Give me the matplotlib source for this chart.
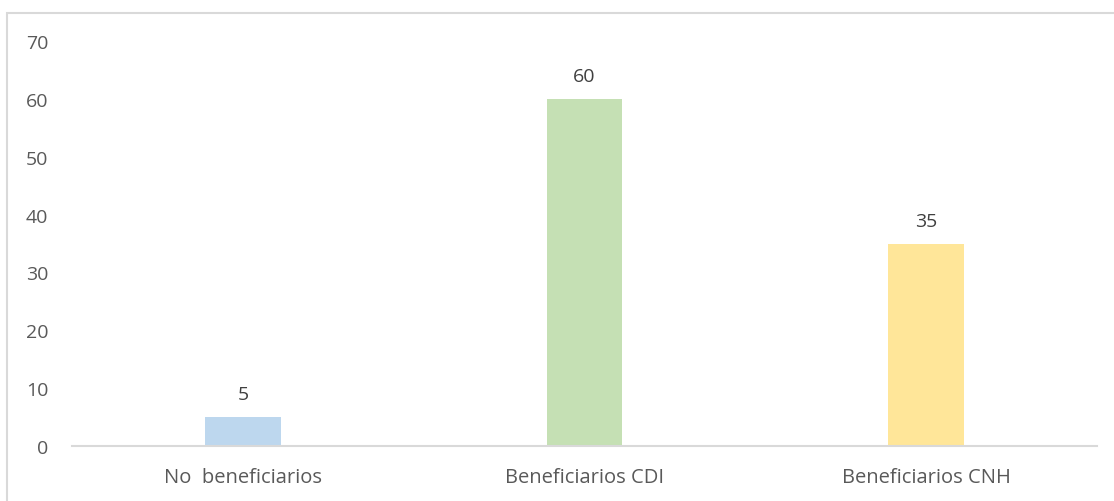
import matplotlib

matplotlib.use("Agg")
import matplotlib.pyplot as plt
from matplotlib.patches import Rectangle

categories = ["No  beneficiarios", "Beneficiarios CDI", "Beneficiarios CNH"]
values = [5, 60, 35]
bar_colors = ["#BDD7EE", "#C5E0B4", "#FFE699"]
yticks = [0, 10, 20, 30, 40, 50, 60, 70]

plt.rcParams["font.family"] = ["Open Sans", "DejaVu Sans"]

fig = plt.figure(figsize=(11.14, 5.02), dpi=100)
ax = fig.add_axes([72 / 1114, 1 - 447 / 502, 1025 / 1114, 405 / 502])

x = list(range(len(categories)))
bars = ax.bar(x, values, width=0.222, color=bar_colors, zorder=2)

for rect, v in zip(bars, values):
    ax.annotate(f"{v}", (rect.get_x() + rect.get_width() / 2, v),
                xytext=(0, 10), textcoords="offset points",
                ha="center", va="bottom", fontsize=14, color="#404040")

ax.set_xlim(-0.5, 2.5)
ax.set_ylim(0, 70)
ax.set_yticks(yticks)
ax.set_xticks(x)
ax.set_xticklabels(categories)
ax.tick_params(axis="y", length=0, pad=17, labelsize=14, labelcolor="#595959")
ax.tick_params(axis="x", length=0, pad=15, labelsize=14.5, labelcolor="#595959")

for side in ("top", "right", "left"):
    ax.spines[side].set_visible(False)
ax.spines["bottom"].set_color("#D9D9D9")
ax.spines["bottom"].set_linewidth(1.5)

# chart-area frame (open on the right and bottom edges)
fig.patches.append(Rectangle((7 / 1114, -0.05), 1.2, 1 - 13.5 / 502 + 0.05,
                             transform=fig.transFigure, fill=False,
                             edgecolor="#D9D9D9", linewidth=1.5))

fig.savefig("out.png", dpi=100)
